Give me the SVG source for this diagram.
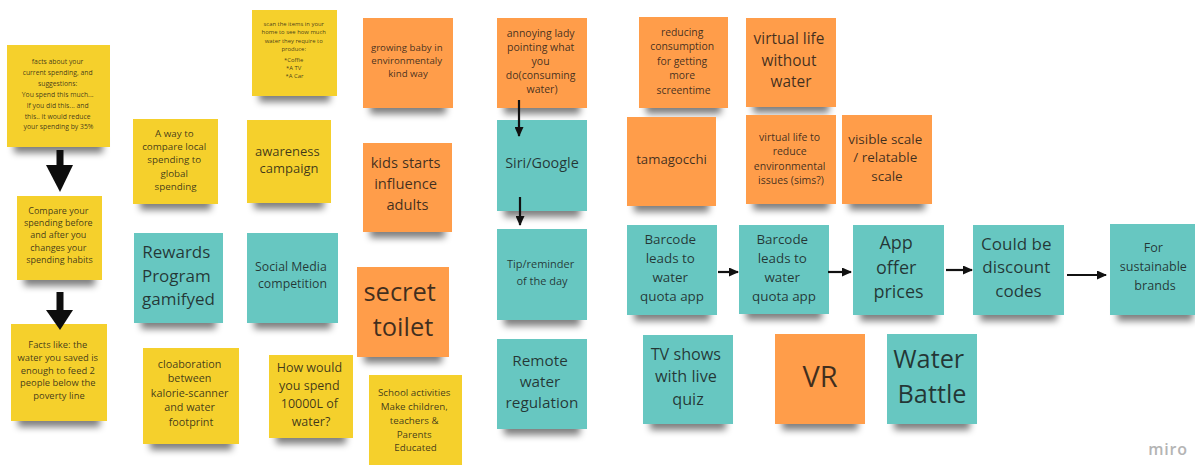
<svg xmlns="http://www.w3.org/2000/svg" width="1195" height="465" viewBox="0 0 1195 465">
  <defs>
    <filter id="soft" x="-30%" y="-100%" width="160%" height="300%">
      <feGaussianBlur stdDeviation="3.5"/>
    </filter>
    <marker id="head" viewBox="0 0 10 9" refX="9" refY="4.5" markerWidth="10" markerHeight="9" markerUnits="userSpaceOnUse" orient="auto">
      <path d="M0,0 L10,4.5 L0,9 z" fill="#111"/>
    </marker>
  </defs>
  <style>
    .sh { fill: #000; opacity: .5; filter: url(#soft); }
    .y { fill: #f5d02c; }
    .o { fill: #ff9d4a; }
    .t { fill: #67c7c1; }
    text { font-family: "Open Sans", "Noto Sans", "DejaVu Sans", sans-serif; fill: #151515; fill-opacity: .82; text-anchor: middle; }
    .link { fill: none; stroke: #111; stroke-width: 2.2; marker-end: url(#head); }
    .big { fill: #0d0d0d; }
    .miro { fill: #b4b4b4; fill-opacity: 1; font-weight: 600; letter-spacing: .8px; }
  </style>
  <rect width="1195" height="465" fill="#ffffff"/>

  <!-- left column: spending facts flow -->
  <g id="n-facts">
    <rect class="sh" x="14" y="137" width="89" height="16"/>
    <rect class="y" x="7" y="45" width="103" height="102"/>
    <text font-size="6.8">
      <tspan x="58.5" y="64.4">facts about your</tspan>
      <tspan x="58.5" y="75.2">current spending, and</tspan>
      <tspan x="58.5" y="86">suggestions:</tspan>
      <tspan x="58.5" y="96.9">You spend this much...</tspan>
      <tspan x="58.5" y="107.7">If you did this... and</tspan>
      <tspan x="58.5" y="118.6">this.. it would reduce</tspan>
      <tspan x="58.5" y="129.4">your spending by 35%</tspan>
    </text>
  </g>
  <g id="n-compare">
    <rect class="sh" x="24" y="270" width="71" height="16"/>
    <rect class="y" x="17" y="196" width="85" height="84"/>
    <text font-size="9">
      <tspan x="59.5" y="213.8">Compare your</tspan>
      <tspan x="59.5" y="226.1">spending before</tspan>
      <tspan x="59.5" y="238.4">and after you</tspan>
      <tspan x="59.5" y="250.7">changes your</tspan>
      <tspan x="59.5" y="263">spending habits</tspan>
    </text>
  </g>
  <g id="n-facts-like">
    <rect class="sh" x="18" y="411" width="82" height="16"/>
    <rect class="y" x="11" y="324" width="96" height="97"/>
    <text font-size="9.4">
      <tspan x="59" y="348.3">Facts like: the</tspan>
      <tspan x="59" y="361">water you saved is</tspan>
      <tspan x="59" y="373.7">enough to feed 2</tspan>
      <tspan x="59" y="386.4">people below the</tspan>
      <tspan x="59" y="399.1">poverty line</tspan>
    </text>
  </g>

  <!-- second column -->
  <g id="n-compare-local">
    <rect class="sh" x="140" y="194" width="71" height="16"/>
    <rect class="y" x="133" y="119" width="85" height="85"/>
    <text font-size="9.8">
      <tspan x="175.5" y="136.5">A way to</tspan>
      <tspan x="175.5" y="149.9">compare local</tspan>
      <tspan x="175.5" y="163.3">spending to</tspan>
      <tspan x="175.5" y="176.7">global</tspan>
      <tspan x="175.5" y="190.1">spending</tspan>
    </text>
  </g>
  <g id="n-rewards">
    <rect class="sh" x="141" y="313" width="75" height="16"/>
    <rect class="t" x="134" y="233" width="89" height="90"/>
    <text font-size="17">
      <tspan x="178.5" y="258">Rewards</tspan>
      <tspan x="178.5" y="281.5">Program</tspan>
      <tspan x="178.5" y="305">gamifyed</tspan>
    </text>
  </g>
  <g id="n-collaboration">
    <rect class="sh" x="150" y="434" width="82" height="16"/>
    <rect class="y" x="143" y="348" width="96" height="96"/>
    <text font-size="10.8">
      <tspan x="191" y="367.8">cloaboration</tspan>
      <tspan x="191" y="382.3">between</tspan>
      <tspan x="191" y="396.8">kalorie-scanner</tspan>
      <tspan x="191" y="411.3">and water</tspan>
      <tspan x="191" y="425.8">footprint</tspan>
    </text>
  </g>

  <!-- third column -->
  <g id="n-scan">
    <rect class="sh" x="259" y="86" width="71" height="16"/>
    <rect class="y" x="252" y="10" width="85" height="86"/>
    <text font-size="5.9">
      <tspan x="294.5" y="26.1">scan the items in your</tspan>
      <tspan x="294.5" y="34.4">home to see how much</tspan>
      <tspan x="294.5" y="42.8">water they require to</tspan>
      <tspan x="294.5" y="51.1">produce:</tspan>
      <tspan x="294.5" y="61.6">*Coffie</tspan>
      <tspan x="294.5" y="69.9">*A TV</tspan>
      <tspan x="294.5" y="78.3">*A Car</tspan>
    </text>
  </g>
  <g id="n-awareness">
    <rect class="sh" x="254" y="193" width="70" height="16"/>
    <rect class="y" x="247" y="120" width="84" height="83"/>
    <text font-size="13">
      <tspan x="289" y="155.5">awareness</tspan>
      <tspan x="289" y="173.2">campaign</tspan>
    </text>
  </g>
  <g id="n-social">
    <rect class="sh" x="254" y="313" width="77" height="16"/>
    <rect class="t" x="247" y="233" width="91" height="90"/>
    <text font-size="12.3">
      <tspan x="292.5" y="271.3">Social Media</tspan>
      <tspan x="292.5" y="288.3">competition</tspan>
    </text>
  </g>
  <g id="n-spend">
    <rect class="sh" x="276" y="428" width="70" height="16"/>
    <rect class="y" x="269" y="355" width="84" height="83"/>
    <text font-size="12.5">
      <tspan x="311" y="372.4">How would</tspan>
      <tspan x="311" y="390.1">you spend</tspan>
      <tspan x="311" y="407.8">10000L of</tspan>
      <tspan x="311" y="425.5">water?</tspan>
    </text>
  </g>

  <!-- fourth column -->
  <g id="n-baby">
    <rect class="sh" x="370" y="98" width="76" height="16"/>
    <rect class="o" x="363" y="18" width="90" height="90"/>
    <text font-size="9.7">
      <tspan x="408" y="51.4">growing baby in</tspan>
      <tspan x="408" y="64.4">environmentaly</tspan>
      <tspan x="408" y="77.4">kind way</tspan>
    </text>
  </g>
  <g id="n-kids">
    <rect class="sh" x="370" y="222" width="75" height="16"/>
    <rect class="o" x="363" y="143" width="89" height="89"/>
    <text font-size="14.7">
      <tspan x="407.5" y="168.2">kids starts</tspan>
      <tspan x="407.5" y="189.2">influence</tspan>
      <tspan x="407.5" y="210.2">adults</tspan>
    </text>
  </g>
  <g id="n-toilet">
    <rect class="sh" x="364" y="347" width="78" height="16"/>
    <rect class="o" x="357" y="267" width="92" height="90"/>
    <text font-size="25.5">
      <tspan x="403" y="301">secret</tspan>
      <tspan x="403" y="336">toilet</tspan>
    </text>
  </g>
  <g id="n-school">
    <rect class="sh" x="376" y="453" width="79" height="16"/>
    <rect class="y" x="369" y="375" width="93" height="90"/>
    <text font-size="9.8">
      <tspan x="415.5" y="396.4">School activities</tspan>
      <tspan x="415.5" y="410.1">Make children,</tspan>
      <tspan x="415.5" y="423.8">teachers &amp;</tspan>
      <tspan x="415.5" y="437.5">Parents</tspan>
      <tspan x="415.5" y="451.2">Educated</tspan>
    </text>
  </g>

  <!-- assistant column -->
  <g id="n-annoying">
    <rect class="sh" x="504" y="98" width="76" height="16"/>
    <rect class="o" x="497" y="18" width="90" height="90"/>
    <text font-size="10.5">
      <tspan x="542" y="36.7">annoying lady</tspan>
      <tspan x="542" y="50.7">pointing what</tspan>
      <tspan x="542" y="64.7">you</tspan>
      <tspan x="542" y="78.7">do(consuming</tspan>
      <tspan x="542" y="92.7">water)</tspan>
    </text>
  </g>
  <g id="n-siri">
    <rect class="sh" x="504" y="201" width="76" height="16"/>
    <rect class="t" x="497" y="120" width="90" height="91"/>
    <text font-size="14.4">
      <tspan x="542" y="168">Siri/Google</tspan>
    </text>
  </g>
  <g id="n-tip">
    <rect class="sh" x="504" y="310" width="76" height="16"/>
    <rect class="t" x="497" y="229" width="90" height="91"/>
    <text font-size="11">
      <tspan x="542" y="267.9">Tip/reminder</tspan>
      <tspan x="542" y="284.9">of the day</tspan>
    </text>
  </g>
  <g id="n-remote">
    <rect class="sh" x="504" y="419" width="76" height="16"/>
    <rect class="t" x="497" y="339" width="90" height="90"/>
    <text font-size="15.3">
      <tspan x="542" y="366.4">Remote</tspan>
      <tspan x="542" y="387.4">water</tspan>
      <tspan x="542" y="408.4">regulation</tspan>
    </text>
  </g>

  <!-- game ideas -->
  <g id="n-reducing">
    <rect class="sh" x="646" y="98" width="75" height="16"/>
    <rect class="o" x="639" y="17" width="89" height="91"/>
    <text font-size="10.4">
      <tspan x="683.5" y="35.6">reducing</tspan>
      <tspan x="683.5" y="50.1">consumption</tspan>
      <tspan x="683.5" y="64.6">for getting</tspan>
      <tspan x="683.5" y="79.1">more</tspan>
      <tspan x="683.5" y="93.6">screentime</tspan>
    </text>
  </g>
  <g id="n-tamagocchi">
    <rect class="sh" x="634" y="196" width="75" height="16"/>
    <rect class="o" x="627" y="117" width="89" height="89"/>
    <text font-size="13.2">
      <tspan x="671.5" y="163.6">tamagocchi</tspan>
    </text>
  </g>
  <g id="n-virtual-life">
    <rect class="sh" x="753" y="97" width="76" height="16"/>
    <rect class="o" x="746" y="18" width="90" height="89"/>
    <text font-size="15.4">
      <tspan x="791" y="44.4">virtual life</tspan>
      <tspan x="791" y="65.9">without</tspan>
      <tspan x="791" y="87.4">water</tspan>
    </text>
  </g>
  <g id="n-virtual-env">
    <rect class="sh" x="753" y="194" width="76" height="16"/>
    <rect class="o" x="746" y="115" width="90" height="89"/>
    <text font-size="10.5">
      <tspan x="791" y="140.7">virtual life to</tspan>
      <tspan x="791" y="155.1">reduce</tspan>
      <tspan x="791" y="169.5">environmental</tspan>
      <tspan x="791" y="183.9">issues (sims?)</tspan>
    </text>
  </g>
  <g id="n-visible">
    <rect class="sh" x="849" y="194" width="76" height="16"/>
    <rect class="o" x="842" y="115" width="90" height="89"/>
    <text font-size="13.5">
      <tspan x="887" y="143.7">visible scale</tspan>
      <tspan x="887" y="162.2">/ relatable</tspan>
      <tspan x="887" y="180.7">scale</tspan>
    </text>
  </g>

  <!-- barcode flow -->
  <g id="n-barcode-1">
    <rect class="sh" x="634" y="305" width="76" height="16"/>
    <rect class="t" x="627" y="225" width="90" height="90"/>
    <text font-size="13.4">
      <tspan x="672" y="243.7">Barcode</tspan>
      <tspan x="672" y="262.7">leads to</tspan>
      <tspan x="672" y="281.7">water</tspan>
      <tspan x="672" y="300.7">quota app</tspan>
    </text>
  </g>
  <g id="n-barcode-2">
    <rect class="sh" x="746" y="304" width="76" height="16"/>
    <rect class="t" x="739" y="225" width="90" height="89"/>
    <text font-size="13.4">
      <tspan x="784" y="243.7">Barcode</tspan>
      <tspan x="784" y="262.7">leads to</tspan>
      <tspan x="784" y="281.7">water</tspan>
      <tspan x="784" y="300.7">quota app</tspan>
    </text>
  </g>
  <g id="n-app-prices">
    <rect class="sh" x="860" y="305" width="77" height="16"/>
    <rect class="t" x="853" y="225" width="91" height="90"/>
    <text font-size="18">
      <tspan x="898.5" y="249.3">App</tspan>
      <tspan x="898.5" y="273.8">offer</tspan>
      <tspan x="898.5" y="298.3">prices</tspan>
    </text>
  </g>
  <g id="n-discount">
    <rect class="sh" x="980" y="305" width="77" height="16"/>
    <rect class="t" x="973" y="225" width="91" height="90"/>
    <text font-size="17">
      <tspan x="1018.5" y="250">Could be</tspan>
      <tspan x="1018.5" y="273.4">discount</tspan>
      <tspan x="1018.5" y="296.8">codes</tspan>
    </text>
  </g>
  <g id="n-brands">
    <rect class="sh" x="1117" y="305" width="76" height="16"/>
    <rect class="t" x="1110" y="224" width="90" height="91"/>
    <text font-size="12.6">
      <tspan x="1155" y="252.4">For</tspan>
      <tspan x="1155" y="271.4">sustainable</tspan>
      <tspan x="1155" y="290.4">brands</tspan>
    </text>
  </g>

  <!-- bottom row -->
  <g id="n-tv">
    <rect class="sh" x="650" y="414" width="76" height="16"/>
    <rect class="t" x="643" y="335" width="90" height="89"/>
    <text font-size="16.2">
      <tspan x="688" y="359.7">TV shows</tspan>
      <tspan x="688" y="382.2">with live</tspan>
      <tspan x="688" y="404.7">quiz</tspan>
    </text>
  </g>
  <g id="n-vr">
    <rect class="sh" x="782" y="414" width="76" height="16"/>
    <rect class="o" x="775" y="334" width="90" height="90"/>
    <text font-size="29">
      <tspan x="820" y="387">VR</tspan>
    </text>
  </g>
  <g id="n-water-battle">
    <rect class="sh" x="894" y="414" width="76" height="16"/>
    <rect class="t" x="887" y="334" width="90" height="90"/>
    <text font-size="25.3">
      <tspan x="932" y="368">Water</tspan>
      <tspan x="932" y="403">Battle</tspan>
    </text>
  </g>

  <!-- connectors -->
  <g id="connectors">
    <rect class="big" x="56.5" y="150" width="7" height="16"/>
    <polygon class="big" points="46,165 73,165 60,192"/>
    <rect class="big" x="56.5" y="292" width="7" height="19"/>
    <polygon class="big" points="46,310 73,310 60,330"/>
    <path class="link" d="M519,100 V136"/>
    <path class="link" d="M520,197 V225"/>
    <path class="link" d="M718,272 H738"/>
    <path class="link" d="M828,272 H851"/>
    <path class="link" d="M946,270 H972"/>
    <path class="link" d="M1067,275 H1106"/>
  </g>

  <text class="miro" x="1168" y="455" font-size="16">miro</text>
</svg>
